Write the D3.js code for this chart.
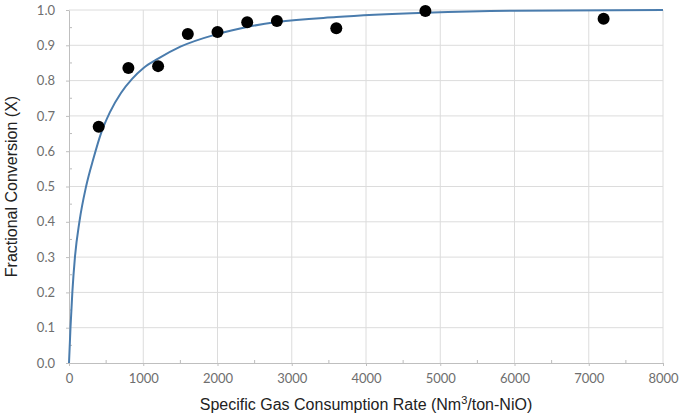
<!DOCTYPE html>
<html>
<head>
<meta charset="utf-8">
<script src="https://cdn.jsdelivr.net/npm/d3@7"></script>
<style>
  body { margin: 0; background: #fff; }
  .tick text { font-family: Lato, "Open Sans", sans-serif; font-size: 13px; fill: #6e6e6e; }
  .title { font-family: "Liberation Sans", Arial, sans-serif; font-size: 16px; fill: #222; }
</style>
</head>
<body>
<div id="chart"></div>
<script>
// measured points
var gasRate = [400, 800, 1200, 1600, 2000, 2400, 2800, 3600, 4800, 7200];
var conversion = [0.669, 0.836, 0.841, 0.932, 0.938, 0.965, 0.969, 0.948, 0.997, 0.975];

// fitted model curve
var curveRate = [0, 20, 45, 80, 140, 230, 330, 430, 550, 700, 850, 1000, 1200, 1500, 2000, 2400, 2800, 3600, 4800, 6000, 8000];
var curveConv = [0, 0.10, 0.20, 0.30, 0.40, 0.50, 0.58, 0.65, 0.71, 0.765, 0.805, 0.835, 0.862, 0.896, 0.932, 0.952, 0.966, 0.98, 0.992, 0.998, 1.0];

var xTicks = [0, 1000, 2000, 3000, 4000, 5000, 6000, 7000, 8000];
var yTicks = [0, 0.1, 0.2, 0.3, 0.4, 0.5, 0.6, 0.7, 0.8, 0.9, 1.0];

var margin = {top: 10, left: 69, bottom: 51, right: 22},
    width = 685 - margin.left - margin.right,
    height = 414 - margin.top - margin.bottom;

var svg = d3.select("div#chart")
  .append("svg")
    .attr("width", 685)
    .attr("height", 414)
  .append("g")
    .attr("transform", "translate(" + margin.left + "," + margin.top + ")");

var x = d3.scaleLinear().domain([0, 8000]).range([0, width]);
var y = d3.scaleLinear().domain([0, 1]).range([height, 0]);

// gridlines
svg.append("g")
    .selectAll("line.vgrid")
    .data(xTicks.slice(1))
    .enter().append("line")
      .attr("x1", function(d) { return x(d); })
      .attr("x2", function(d) { return x(d); })
      .attr("y1", 0)
      .attr("y2", height)
      .attr("stroke", "#dcdcdc");

svg.append("g")
    .selectAll("line.hgrid")
    .data(yTicks.slice(1))
    .enter().append("line")
      .attr("x1", 0)
      .attr("x2", width)
      .attr("y1", function(d) { return y(d); })
      .attr("y2", function(d) { return y(d); })
      .attr("stroke", "#dcdcdc");

// minor ticks
svg.append("g")
    .selectAll("line")
    .data(d3.range(500, 8000, 1000))
    .enter().append("line")
      .attr("x1", function(d) { return x(d); })
      .attr("x2", function(d) { return x(d); })
      .attr("y1", height)
      .attr("y2", height - 3)
      .attr("stroke", "#bbb");

svg.append("g")
    .selectAll("line")
    .data(d3.range(0.05, 1, 0.1))
    .enter().append("line")
      .attr("x1", 0)
      .attr("x2", 3)
      .attr("y1", function(d) { return y(d); })
      .attr("y2", function(d) { return y(d); })
      .attr("stroke", "#bbb");

// axes
var xAxis = svg.append("g")
    .attr("transform", "translate(0," + height + ")")
    .call(d3.axisBottom(x).tickValues(xTicks).tickFormat(d3.format("d")).tickSize(3).tickSizeOuter(0).tickPadding(8));

var yAxis = svg.append("g")
    .call(d3.axisLeft(y).tickValues(yTicks).tickFormat(d3.format(".1f")).tickSize(3).tickSizeOuter(0).tickPadding(11));

[xAxis, yAxis].forEach(function(a) {
  a.select(".domain").attr("stroke", "#bfbfbf");
  a.selectAll(".tick line").attr("stroke", "#bfbfbf");
});

// model curve
var line = d3.line()
    .x(function(d) { return x(d[0]); })
    .y(function(d) { return y(d[1]); })
    .curve(d3.curveMonotoneX);

svg.append("path")
    .datum(d3.zip(curveRate, curveConv))
    .attr("fill", "none")
    .attr("stroke", "#4a7cad")
    .attr("stroke-width", 2)
    .attr("d", line);

// measured dots
svg.append("g")
    .selectAll("circle")
    .data(d3.zip(gasRate, conversion))
    .enter().append("circle")
      .attr("cx", function(d) { return x(d[0]); })
      .attr("cy", function(d) { return y(d[1]); })
      .attr("r", 6)
      .attr("fill", "#000");

// titles
var xt = svg.append("text")
    .attr("class", "title")
    .attr("x", width / 2)
    .attr("y", height + 47)
    .attr("text-anchor", "middle");
xt.append("tspan").text("Specific Gas Consumption Rate (Nm");
xt.append("tspan").attr("dy", -6).attr("font-size", "11px").text("3");
xt.append("tspan").attr("dy", 6).text("/ton-NiO)");

svg.append("text")
    .attr("class", "title")
    .attr("transform", "translate(" + (-52) + "," + (height / 2) + ") rotate(-90)")
    .attr("text-anchor", "middle")
    .text("Fractional Conversion (X)");
</script>
</body>
</html>
